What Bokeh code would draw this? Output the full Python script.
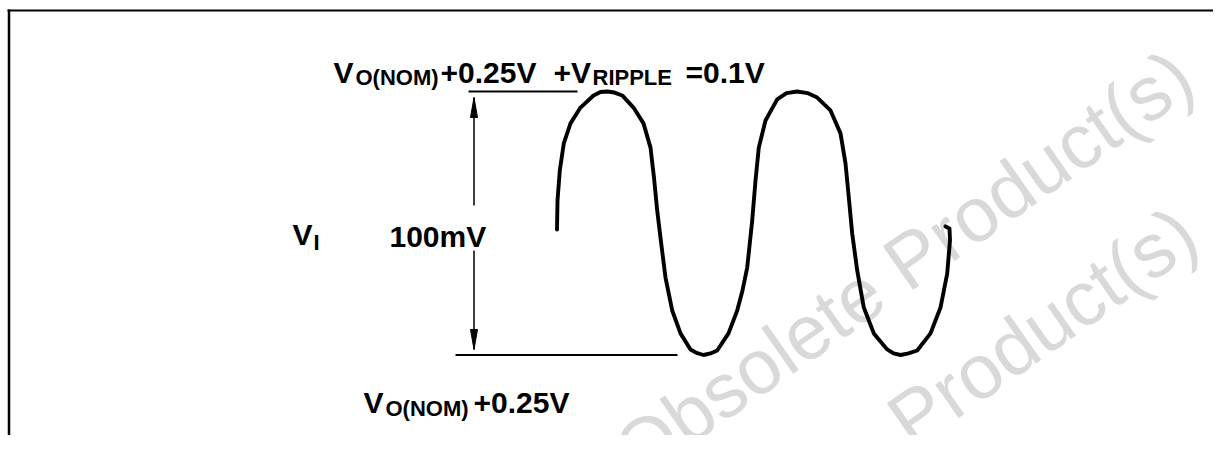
from bokeh.plotting import figure
from bokeh.models import Range1d
from bokeh.core.properties import value
from bokeh.embed import file_html
from bokeh.resources import INLINE

# ---- data (time in arbitrary units, voltage in mV above V_O(NOM)+0.25V)
wave_t = [0.5, 1, 3.3, 7.3, 14, 24, 37, 44, 50.7, 58, 65.7, 77, 87, 94, 97.5, 100.7,
          104.7, 109, 115.7, 124, 134, 140, 147, 154, 160.7, 172, 180.7, 186, 190.7,
          195.7, 199, 202.3, 209, 220.7, 230, 240.7, 251, 260.7, 274, 284, 289, 292.3,
          295.7, 300.7, 307.3, 317.3, 330.7, 337, 344, 352, 360.7, 374, 384, 390.7,
          393.5, 393, 389]
wave_mv = [47.6, 58.6, 70.0, 80.3, 87.9, 93.9, 98.5, 99.8, 100, 99.6, 98.5, 93.9, 87.9,
           78.7, 67.3, 54.8, 42.3, 29.4, 16.9, 8.2, 2.1, 0.8, 0, 0.6, 1.7, 8.2, 16.9,
           24.5, 33.2, 51.0, 66.2, 78.7, 89.0, 97.0, 99.4, 100, 99.4, 97.7, 92.8, 84.1,
           72.7, 59.8, 46.1, 32.1, 18.0, 8.2, 2.1, 0.6, 0, 0.6, 1.7, 8.2, 18.0, 30.9,
           43.5, 48.0, 48.8]

ripple_mv = 100          # V_RIPPLE = 0.1 V
base_mv = 0              # V_O(NOM)+0.25V

big_labels = ["V", "+0.25V", "+V", "=0.1V", "V", "+0.25V", "V", "100mV"]
sub_labels = ["O(NOM)", "RIPPLE", "O(NOM)", "I"]
watermark = "Obsolete Product(s)"

# ---- pixel helpers for layout (figure covers picture x 0..1213, y 0..435)
W, H = 1213, 435
PX_PER_MV = 2.635
def tx(px):
    return px - 556
def my(py):
    return (354.5 - py) / PX_PER_MV

p = figure(width=W, height=H, x_range=Range1d(tx(0), tx(W)),
           y_range=Range1d(my(H), my(0)), output_backend="svg",
           toolbar_location=None, min_border=0,
           x_axis_location=None, y_axis_location=None)
p.grid.visible = False
p.outline_line_color = None
p.background_fill_color = "white"
p.border_fill_color = "white"

# watermark (behind)
p.text(x=[tx(1183), tx(1187)], y=[my(67), my(224)], text=[watermark, watermark],
       angle=0.611, text_align="right", text_baseline="alphabetic",
       text_font=value("Liberation Sans"), text_font_size="77px", text_color="#d9d9d9")

# frame (top and left edges of the figure box)
p.segment(x0=[tx(8.5), tx(7)], y0=[my(9), my(10)], x1=[tx(8.5), tx(W + 5)],
          y1=[my(H + 5), my(10)], line_color="black", line_width=[2.5, 2])

# reference levels
p.segment(x0=[tx(468), tx(455)], y0=[ripple_mv, base_mv], x1=[tx(577), tx(677)],
          y1=[ripple_mv, base_mv], line_color="black", line_width=2)

# dimension arrow
ax = tx(473.5)
p.segment(x0=[ax, ax], y0=[ripple_mv - 2.3, my(250)], x1=[ax, ax],
          y1=[my(205), base_mv + 2.1], line_color="black", line_width=1.5)
head_len = 20 / PX_PER_MV
hw = 3.5
p.patches(xs=[[ax, ax - hw, ax + hw], [ax, ax - hw, ax + hw]],
          ys=[[ripple_mv - 2.3, ripple_mv - 2.3 - head_len, ripple_mv - 2.3 - head_len],
              [base_mv + 2.1, base_mv + 2.1 + head_len, base_mv + 2.1 + head_len]],
          fill_color="black", line_color="black", line_width=1)

# waveform
p.line(wave_t, wave_mv, line_color="black", line_width=3.9, line_join="round", line_cap="round")

# labels
big_x = [tx(333), tx(440), tx(553), tx(685), tx(363), tx(473), tx(292), tx(389)]
big_y = [my(71.5), my(71.5), my(71.5), my(71.5), my(402), my(402), my(234), my(236)]
p.text(x=big_x, y=big_y, text=big_labels, text_align="left", text_baseline="alphabetic",
       text_font=value("Liberation Sans"), text_font_style="bold", text_font_size="30px",
       text_color="black")
sub_x = [tx(355), tx(592), tx(385), tx(313)]
sub_y = [my(77), my(77), my(408), my(242)]
p.text(x=sub_x, y=sub_y, text=sub_labels, text_align="left", text_baseline="alphabetic",
       text_font=value("Liberation Sans"), text_font_style="bold", text_font_size="22px",
       text_color="black")

open("out.html", "w").write(file_html(p, INLINE))
